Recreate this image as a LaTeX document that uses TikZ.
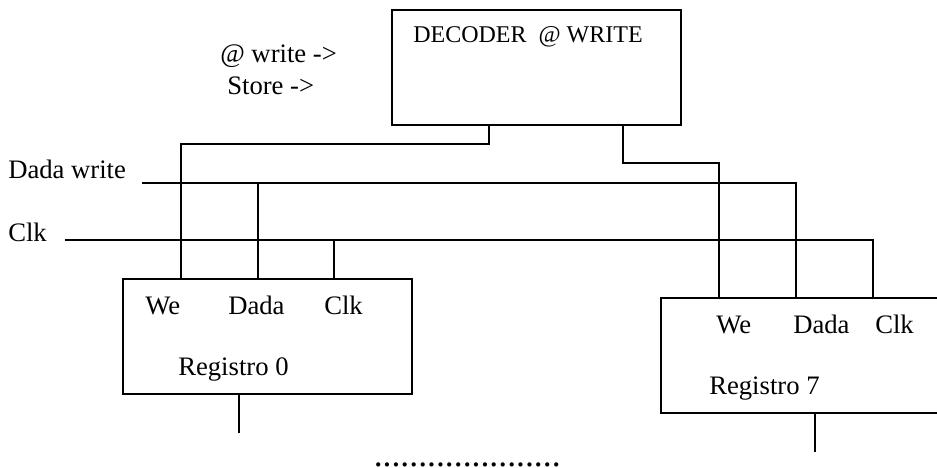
\documentclass[tikz,border=0pt]{standalone}
\usepackage{fontspec}
\setmainfont{Liberation Serif}
\begin{document}
\begin{tikzpicture}[x=0.75pt,y=-0.75pt,
  box/.style={draw=black,line width=1.15pt,outer sep=0pt},
  wire/.style={draw=black,line width=1.15pt,line cap=butt,line join=miter},
  txt/.style={font=\fontsize{20}{24}\selectfont,inner sep=0,anchor=base west,text=black}]
\useasboundingbox (0,0) rectangle (937,467);
\node[inner sep=0,minimum width=216.75pt,minimum height=86.25pt,anchor=north west,box] (decoder) at (392,10) {};
\node[inner sep=0,minimum width=216.75pt,minimum height=86.25pt,anchor=north west,box] (reg0) at (123,279) {};
\node[inner sep=0,outer sep=0pt,minimum width=207pt,minimum height=86.25pt,anchor=north west] (reg7) at (661,298) {};
\draw[box] (reg7.north east) -- (reg7.north west) -- (reg7.south west) -- (reg7.south east);
\coordinate (q0) at (239,433);
\coordinate (q7) at (815,452);
\coordinate (dwS) at (142,183);
\coordinate (clkS) at (65,240);
\draw[wire] (489,125) |- (181,144) -- (181,279);
\draw[wire] (623,125) |- (719,163) -- (719,298);
\draw[wire] (dwS) -| (796,298);
\draw[wire] (258,183) -- (258,279);
\draw[wire] (clkS) -| (873,298);
\draw[wire] (334,240) -- (334,279);
\draw[wire] (239,394) -- (q0);
\draw[wire] (815,413) -- (q7);
\node[txt] (t1) at (220,63) {@ write ->};
\node[txt] (t2) at (227,94) {Store ->};
\node[txt,font=\fontsize{18}{22}\selectfont] (t3) at (413,43) {DECODER\ \ @ WRITE};
\node[txt] (t4) at (8,178) {Dada write};
\node[txt] (t5) at (8,241) {Clk};
\node[txt] (t6) at (145,314) {We};
\node[txt] (t7) at (228,314) {Dada};
\node[txt] (t8) at (324,314) {Clk};
\node[txt] (t9) at (178,375) {Registro 0};
\node[txt] (t10) at (716,333) {We};
\node[txt] (t11) at (793,333) {Dada};
\node[txt] (t12) at (875,333) {Clk};
\node[txt] (t13) at (709,394) {Registro 7};
\node[txt,font=\fontsize{26.7}{30}\selectfont] (t14) at (373.5,466) {.....................};
\end{tikzpicture}
\end{document}
